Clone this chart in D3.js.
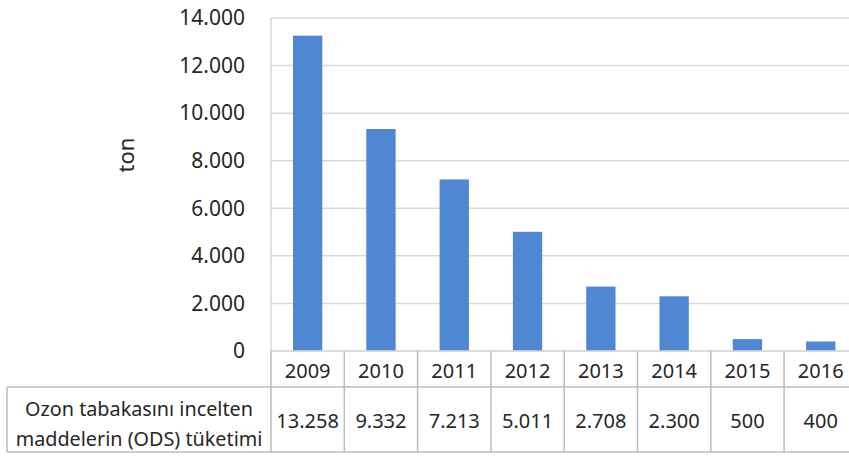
<!DOCTYPE html>
<html>
<head>
<meta charset="utf-8">
<script src="https://cdn.jsdelivr.net/npm/d3@7"></script>
<style>
  html, body { margin: 0; padding: 0; background: #fff; }
  svg { display: block; }
  text { font-family: "Noto Sans", "Open Sans", sans-serif; fill: #262626; }
</style>
</head>
<body>
<svg id="chart" width="849" height="456"></svg>
<script>
const years = ["2009", "2010", "2011", "2012", "2013", "2014", "2015", "2016"];
const odsValues = [13258, 9332, 7213, 5011, 2708, 2300, 500, 400];
const yTicks = [0, 2000, 4000, 6000, 8000, 10000, 12000, 14000];
const yLabel = "ton";
const rowLabel = ["Ozon tabakasını incelten", "maddelerin (ODS) tüketimi"];

const W = 849, H = 456;
const plotLeft = 271, plotRight = 857.4, plotTop = 18, plotBottom = 351;
const yearRowBottom = 387, tableBottom = 452, tableLeft = 7;

const locale = d3.formatLocale({ decimal: ",", thousands: ".", grouping: [3], currency: ["", "₺"] });
const fmt = locale.format(",d");

const svg = d3.select("#chart");

const x = d3.scaleBand().domain(years).range([plotLeft, plotRight]).paddingInner(0.6).paddingOuter(0.3);
const y = d3.scaleLinear().domain([0, 14000]).range([plotBottom, plotTop]);

const gridColor = "#d9d9d9";
const tableColor = "#bcbcbc";

// gridlines
svg.append("g").selectAll("line").data(yTicks).join("line")
  .attr("x1", plotLeft).attr("x2", W)
  .attr("y1", d => y(d)).attr("y2", d => y(d))
  .attr("stroke", gridColor).attr("stroke-width", 1.5);

// bars
svg.append("g").selectAll("rect").data(odsValues).join("rect")
  .attr("x", (d, i) => x(years[i]))
  .attr("width", x.bandwidth())
  .attr("y", d => y(d))
  .attr("height", d => y(0) - y(d))
  .attr("fill", "#4f87d3");

// y axis labels
const yAxis = d3.axisLeft(y).tickValues(yTicks).tickFormat(fmt).tickSize(0).tickPadding(26);
const ga = svg.append("g").attr("transform", `translate(${plotLeft},0)`).call(yAxis);
ga.select(".domain").remove();
ga.selectAll("text").attr("font-size", 21).attr("font-family", "Noto Sans").attr("fill", "#262626");

// y axis title
svg.append("text")
  .attr("transform", "translate(125,155) rotate(-90)")
  .attr("text-anchor", "middle").attr("dominant-baseline", "central")
  .attr("font-size", 22).text(yLabel);

// table lines
const step = x.step();
const colEdges = d3.range(years.length + 1).map(i => plotLeft + i * step);
const tl = svg.append("g").attr("stroke", tableColor).attr("stroke-width", 1.5);
tl.append("line").attr("x1", plotLeft).attr("x2", W).attr("y1", plotBottom).attr("y2", plotBottom).attr("stroke", gridColor);
tl.append("line").attr("x1", tableLeft).attr("x2", W).attr("y1", yearRowBottom).attr("y2", yearRowBottom);
tl.append("line").attr("x1", tableLeft).attr("x2", W).attr("y1", tableBottom).attr("y2", tableBottom);
tl.append("line").attr("x1", tableLeft).attr("x2", tableLeft).attr("y1", yearRowBottom).attr("y2", tableBottom);
tl.append("line").attr("x1", plotLeft).attr("x2", plotLeft).attr("y1", plotTop).attr("y2", plotBottom).attr("stroke", gridColor);
tl.selectAll("line.col").data(colEdges).join("line").attr("class", "col")
  .attr("x1", d => d).attr("x2", d => d)
  .attr("y1", plotBottom).attr("y2", tableBottom);

// year labels
svg.append("g").selectAll("text").data(years).join("text")
  .attr("x", d => x(d) + x.bandwidth() / 2)
  .attr("y", (plotBottom + yearRowBottom) / 2 + 1)
  .attr("text-anchor", "middle").attr("dominant-baseline", "central")
  .attr("font-size", 20).text(d => d);

// value cells
svg.append("g").selectAll("text").data(odsValues).join("text")
  .attr("x", (d, i) => x(years[i]) + x.bandwidth() / 2)
  .attr("y", (yearRowBottom + tableBottom) / 2 + 1)
  .attr("text-anchor", "middle").attr("dominant-baseline", "central")
  .attr("font-size", 20).text(d => fmt(d));

// row label
svg.append("g").selectAll("text").data(rowLabel).join("text")
  .attr("x", (tableLeft + plotLeft) / 2)
  .attr("y", (d, i) => 408 + i * 30)
  .attr("text-anchor", "middle").attr("dominant-baseline", "central")
  .attr("font-size", 19.8).text(d => d);
</script>
</body>
</html>
